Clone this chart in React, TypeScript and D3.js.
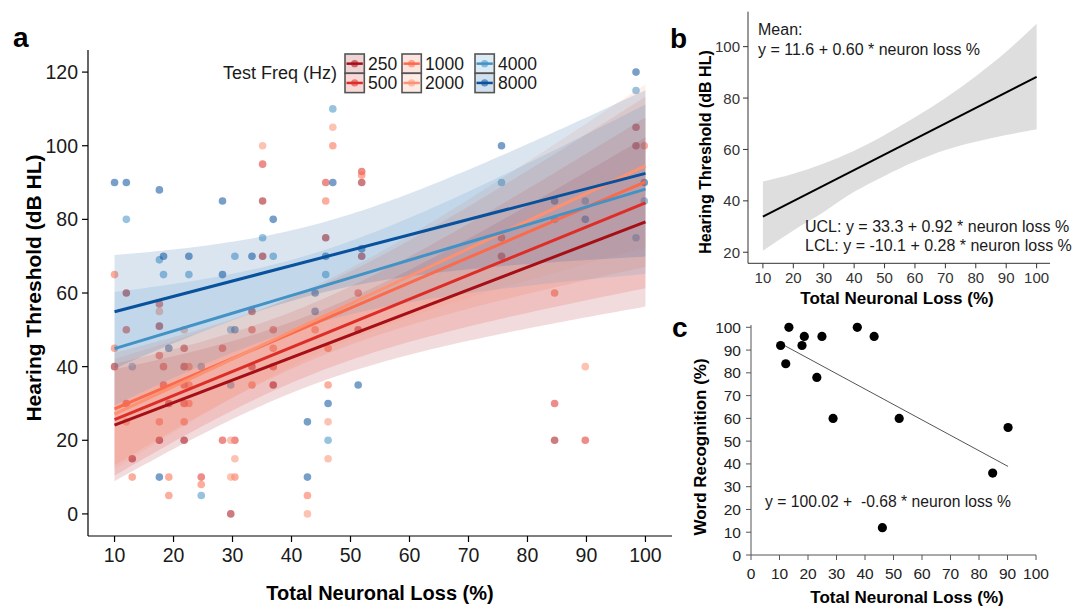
import React from "react";
import * as d3 from "d3";

// ---------- Panel a data ----------
const freqs = ["250", "500", "1000", "2000", "4000", "8000"];
const freqColors = ["#a50f15", "#de2d26", "#fb6a4a", "#fc9272", "#4292c6", "#08519c"];
// fitted line value at 10% and 100% neuronal loss
const fitAt10 = [24.1, 25.6, 28.5, 27.1, 44.9, 54.9];
const fitAt100 = [79.3, 84.5, 90.2, 94.5, 88.2, 92.5];
// confidence band half-widths at 10%, ~43% (narrowest) and 100%
const bandHalfAt10 = [15.2, 15.2, 15.3, 15.0, 15.4, 15.4];
const bandHalfAtMid = [9.6, 9.6, 9.6, 9.4, 9.6, 9.5];
const bandHalfAt100 = [23.0, 23.2, 23.1, 22.2, 23.0, 22.6];
const bandMidX = 43;

const pts250: [number, number][] = [
  [35.1, 85], [51.9, 90], [45.8, 75], [35.1, 70], [51.9, 70], [12, 60], [17.6, 51], [33.3, 55], [51.3, 50],
  [21.8, 45], [10, 40], [21.8, 40], [33.3, 40], [36.9, 35], [19.2, 30], [17.6, 20], [21.8, 20], [13, 15],
  [29.7, 0], [98.4, 105], [98.4, 100], [75.6, 70], [84.6, 20],
];
const pts500: [number, number][] = [
  [35.1, 95], [45.8, 90], [51.9, 93], [17.6, 57], [51.3, 60], [12, 50], [33.3, 50], [36.9, 50], [17.6, 43],
  [28.3, 45], [18.3, 40], [36.9, 40], [18.3, 35], [21.8, 35], [12, 30], [21.8, 30], [28.3, 20], [30.4, 20],
  [24.7, 10], [75.6, 75], [84.6, 30], [89.8, 20],
];
const pts1000: [number, number][] = [
  [47, 100], [45.8, 85], [51.9, 92], [10, 65], [44, 50], [10, 45], [36.9, 45], [46.2, 45], [22.6, 40],
  [22.6, 35], [33.3, 35], [46.2, 35], [22.6, 30], [17.6, 25], [21.8, 25], [13, 10], [19.2, 10], [30.4, 10],
  [24.7, 8], [19.2, 5], [42.7, 5], [99.8, 100], [84.6, 60],
];
const pts2000: [number, number][] = [
  [35.1, 100], [47, 105], [17.6, 55], [21.8, 50], [12, 25], [46.2, 25], [29.7, 20], [30.4, 15], [46.2, 15],
  [29.7, 10], [42.7, 0], [89.8, 40],
];
const pts4000: [number, number][] = [
  [47, 110], [12, 80], [35.1, 75], [17.6, 69], [30.4, 70], [36.9, 70], [18.3, 65], [22.6, 65], [45.8, 65],
  [29.7, 50], [13, 40], [24.7, 40], [29.7, 35], [46.2, 20], [24.7, 5], [98.4, 115], [99.8, 85], [98.4, 75],
  [75.6, 90], [84.6, 80], [89.8, 85],
];
const pts8000: [number, number][] = [
  [10, 90], [12, 90], [17.6, 88], [28.3, 85], [47, 90], [36.9, 80], [18.3, 70], [22.6, 70], [33.3, 70],
  [45.8, 70], [51.9, 72], [28.3, 65], [44, 60], [44, 55], [30.4, 50], [19.2, 45], [51.3, 35], [46.2, 30],
  [42.7, 25], [17.6, 10], [42.7, 10], [98.4, 120], [99.8, 90], [75.6, 100], [84.6, 85], [89.8, 80],
];
const ptsByFreq = [pts250, pts500, pts1000, pts2000, pts4000, pts8000];
const ticksA_x = [10, 20, 30, 40, 50, 60, 70, 80, 90, 100];
const ticksA_y = [0, 20, 40, 60, 80, 100, 120];

// ---------- Panel b data ----------
const meanLineX = [10, 100];
const meanLineY = [33.9, 88.2];
const bandBX = [10, 20, 30, 40, 50, 60, 70, 80, 90, 100];
const bandBLower = [20.6, 28.5, 35.7, 43.5, 49.7, 55.3, 59.8, 63.0, 65.6, 67.9];
const bandBUpper = [47.5, 50.5, 54.5, 59.5, 65.6, 72.5, 80.0, 88.5, 98.0, 108.9];
const ticksB_x = [10, 20, 30, 40, 50, 60, 70, 80, 90, 100];
const ticksB_y = [20, 40, 60, 80, 100];

// ---------- Panel c data ----------
const wordLoss = [10.4, 13.3, 12.2, 17.9, 18.7, 24.9, 23.1, 28.8, 37.3, 43.2, 46.1, 52.0, 84.8, 90.2];
const wordRec = [92, 100, 84, 92, 96, 96, 78, 60, 100, 96, 12, 60, 36, 56];
const trendX = [10.4, 90.2];
const trendY = [92.9, 38.9];
const ticksC = [0, 10, 20, 30, 40, 50, 60, 70, 80, 90, 100];

const FONT = "'Liberation Sans', Arial, Helvetica, sans-serif";

function PanelA() {
  const x = d3.scaleLinear().domain([5.5, 104.5]).range([88, 672]);
  const y = d3.scaleLinear().domain([-6, 126]).range([536, 50]);
  const grid = d3.range(10, 100.01, 1);

  const bands = freqs.map((_, i) => {
    const f = (t: number) => fitAt10[i] + ((fitAt100[i] - fitAt10[i]) * (t - 10)) / 90;
    const xs = [10, bandMidX, 100];
    const hs = [bandHalfAt10[i] ** 2, bandHalfAtMid[i] ** 2, bandHalfAt100[i] ** 2];
    const hw = (t: number) => {
      let s = 0;
      for (let a = 0; a < 3; a++) {
        let l = 1;
        for (let b = 0; b < 3; b++) if (b !== a) l *= (t - xs[b]) / (xs[a] - xs[b]);
        s += hs[a] * l;
      }
      return Math.sqrt(Math.max(s, 0));
    };
    const area = d3
      .area<number>()
      .x((t) => x(t))
      .y0((t) => y(f(t) - hw(t)))
      .y1((t) => y(f(t) + hw(t)));
    const line = d3
      .line<number>()
      .x((t) => x(t))
      .y((t) => y(f(t)));
    return { area: area(grid)!, line: line([10, 100])! };
  });

  return (
    <g fontFamily={FONT}>
      {ptsByFreq.map((pts, i) =>
        pts.map((p, j) => (
          <circle key={`p${i}-${j}`} cx={x(p[0])} cy={y(p[1])} r={3.8} fill={freqColors[i]} fillOpacity={0.55} />
        ))
      )}
      {bands.map((b, i) => (
        <path key={`b${i}`} d={b.area} fill={freqColors[i]} fillOpacity={0.15} stroke="none" />
      ))}
      {bands.map((b, i) => (
        <path key={`l${i}`} d={b.line} fill="none" stroke={freqColors[i]} strokeWidth={3} />
      ))}
      <line x1={88} x2={88} y1={50} y2={536} stroke="#000" strokeWidth={1.2} />
      <line x1={88} x2={672} y1={536} y2={536} stroke="#000" strokeWidth={1.2} />
      {ticksA_y.map((t) => (
        <g key={`ya${t}`}>
          <line x1={82} x2={88} y1={y(t)} y2={y(t)} stroke="#000" strokeWidth={1.2} />
          <text x={78} y={y(t) + 7} textAnchor="end" fontSize={19.5} fill="#1a1a1a">
            {t}
          </text>
        </g>
      ))}
      {ticksA_x.map((t) => (
        <g key={`xa${t}`}>
          <line x1={x(t)} x2={x(t)} y1={536} y2={542} stroke="#000" strokeWidth={1.2} />
          <text x={x(t)} y={562} textAnchor="middle" fontSize={19.5} fill="#1a1a1a">
            {t}
          </text>
        </g>
      ))}
      <text x={380} y={600} textAnchor="middle" fontSize={20} fontWeight="bold">
        Total Neuronal Loss (%)
      </text>
      <text transform={`translate(41,288) rotate(-90)`} textAnchor="middle" fontSize={21} fontWeight="bold">
        Hearing Threshold (dB HL)
      </text>
      <text x={13} y={47} fontSize={28} fontWeight="bold">
        a
      </text>
      <text x={337} y={79} textAnchor="end" fontSize={18} fill="#1a1a1a">
        Test Freq (Hz)
      </text>
      {freqs.map((fq, i) => {
        const col = Math.floor(i / 2);
        const row = i % 2;
        const kx = [345, 402, 475][col];
        const ky = 54 + row * 19.3;
        return (
          <g key={`lg${i}`}>
            <rect x={kx} y={ky} width={19.3} height={19.3} fill="#fff" stroke="none" />
            <rect x={kx} y={ky} width={19.3} height={19.3} fill={freqColors[i]} fillOpacity={0.18} stroke="#555" strokeWidth={1.6} />
            <circle cx={kx + 9.65} cy={ky + 9.65} r={3.6} fill={freqColors[i]} fillOpacity={0.55} />
            <line x1={kx + 1.5} x2={kx + 17.8} y1={ky + 9.65} y2={ky + 9.65} stroke={freqColors[i]} strokeWidth={2.5} />
            <text x={kx + 23} y={ky + 16} fontSize={17.5} fill="#1a1a1a">
              {fq}
            </text>
          </g>
        );
      })}
    </g>
  );
}

function PanelB() {
  const x = d3.scaleLinear().domain([5.1, 104.4]).range([748, 1050]);
  const y = d3.scaleLinear().domain([15.7, 113.6]).range([263.3, 11.7]);
  const area = d3
    .area<number>()
    .x((_, i) => x(bandBX[i]))
    .y0((_, i) => y(bandBLower[i]))
    .y1((_, i) => y(bandBUpper[i]))
    .curve(d3.curveMonotoneX);
  const line = d3
    .line<number>()
    .x((_, i) => x(meanLineX[i]))
    .y((d) => y(d));
  return (
    <g fontFamily={FONT}>
      <path d={area(bandBX)!} fill="#dedede" />
      <path d={line(meanLineY)!} fill="none" stroke="#000" strokeWidth={2} />
      <line x1={748} x2={748} y1={11.7} y2={263.3} stroke="#333" strokeWidth={1} />
      <line x1={748} x2={1050} y1={263.3} y2={263.3} stroke="#333" strokeWidth={1} />
      {ticksB_y.map((t) => (
        <g key={`yb${t}`}>
          <line x1={743} x2={748} y1={y(t)} y2={y(t)} stroke="#333" />
          <text x={740} y={y(t) + 5.5} textAnchor="end" fontSize={15} fill="#333">
            {t}
          </text>
        </g>
      ))}
      {ticksB_x.map((t) => (
        <g key={`xb${t}`}>
          <line x1={x(t)} x2={x(t)} y1={263.3} y2={268.3} stroke="#333" />
          <text x={x(t)} y={283} textAnchor="middle" fontSize={15} fill="#333">
            {t}
          </text>
        </g>
      ))}
      <text x={897} y={304} textAnchor="middle" fontSize={17} fontWeight="bold">
        Total Neuronal Loss (%)
      </text>
      <text transform="translate(711,152) rotate(-90)" textAnchor="middle" fontSize={16} fontWeight="bold">
        Hearing Threshold (dB HL)
      </text>
      <text x={758} y={35} fontSize={16} fill="#1a1a1a">
        Mean:
      </text>
      <text x={758} y={55} fontSize={16} fill="#1a1a1a">
        y = 11.6 + 0.60 * neuron loss %
      </text>
      <text x={805} y={232} fontSize={16} fill="#1a1a1a">
        UCL: y = 33.3 + 0.92 * neuron loss %
      </text>
      <text x={805} y={251} fontSize={16} fill="#1a1a1a">
        LCL: y = -10.1 + 0.28 * neuron loss %
      </text>
      <text x={670} y={48} fontSize={28} fontWeight="bold">
        b
      </text>
    </g>
  );
}

function PanelC() {
  const x = d3.scaleLinear().domain([0, 100]).range([751, 1036]);
  const y = d3.scaleLinear().domain([0, 100]).range([555, 327.3]);
  const line = d3
    .line<number>()
    .x((_, i) => x(trendX[i]))
    .y((d) => y(d));
  return (
    <g fontFamily={FONT}>
      <line x1={751} x2={751} y1={325} y2={555} stroke="#555" strokeWidth={1} />
      <line x1={751} x2={1036} y1={555} y2={555} stroke="#555" strokeWidth={1} />
      {ticksC.map((t) => (
        <g key={`yc${t}`}>
          <line x1={746} x2={751} y1={y(t)} y2={y(t)} stroke="#555" />
          <text x={741} y={y(t) + 5.5} textAnchor="end" fontSize={15.5} fill="#222">
            {t}
          </text>
        </g>
      ))}
      {ticksC.map((t) => (
        <g key={`xc${t}`}>
          <line x1={x(t)} x2={x(t)} y1={555} y2={560} stroke="#555" />
          <text x={x(t)} y={579} textAnchor="middle" fontSize={15.5} fill="#222">
            {t}
          </text>
        </g>
      ))}
      <path d={line(trendY)!} fill="none" stroke="#555" strokeWidth={1} />
      {wordLoss.map((v, i) => (
        <circle key={`c${i}`} cx={x(v)} cy={y(wordRec[i])} r={4.6} fill="#000" />
      ))}
      <text x={765} y={507} fontSize={15.7} fill="#1a1a1a" style={{ whiteSpace: "pre" }}>
        {"y = 100.02 +  -0.68 * neuron loss %"}
      </text>
      <text x={907} y={603} textAnchor="middle" fontSize={17} fontWeight="bold">
        Total Neuronal Loss (%)
      </text>
      <text transform="translate(706,447) rotate(-90)" textAnchor="middle" fontSize={17} fontWeight="bold">
        Word Recognition (%)
      </text>
      <text x={672} y={337} fontSize={28} fontWeight="bold">
        c
      </text>
    </g>
  );
}

export default function App() {
  return (
    <svg
      width={1083}
      height={606}
      viewBox="0 0 1083 606"
      style={{ position: "absolute", left: 0, top: 0, background: "#fff" }}
    >
      <rect width={1083} height={606} fill="#fff" />
      <PanelA />
      <PanelB />
      <PanelC />
    </svg>
  );
}
